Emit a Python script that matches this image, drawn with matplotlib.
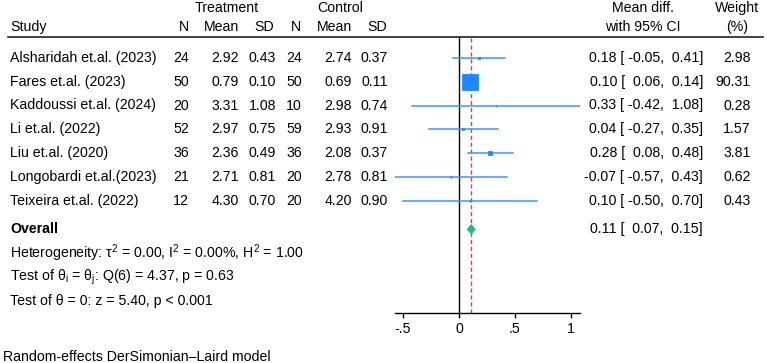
import matplotlib
matplotlib.use("Agg")
import matplotlib.pyplot as plt
import matplotlib.transforms as mtransforms
import numpy as np

plt.rcParams.update({
    "font.family": ["Liberation Sans", "DejaVu Sans"],
    "font.size": 10.2,
    "mathtext.fontset": "custom",
    "mathtext.rm": "Liberation Sans",
    "mathtext.it": "Liberation Sans:italic",
    "mathtext.bf": "Liberation Sans:bold",
})

# Data
studies = [
    "Alsharidah et.al. (2023)",
    "Fares et.al. (2023)",
    "Kaddoussi et.al. (2024)",
    "Li et.al. (2022)",
    "Liu et.al. (2020)",
    "Longobardi et.al.(2023)",
    "Teixeira et.al. (2022)",
]
n_treat = [24, 50, 20, 52, 36, 21, 12]
mean_treat = [2.92, 0.79, 3.31, 2.97, 2.36, 2.71, 4.30]
sd_treat = [0.43, 0.10, 1.08, 0.75, 0.49, 0.81, 0.70]
n_ctrl = [24, 50, 10, 59, 36, 20, 20]
mean_ctrl = [2.74, 0.69, 2.98, 2.93, 2.08, 2.78, 4.20]
sd_ctrl = [0.37, 0.11, 0.74, 0.91, 0.37, 0.81, 0.90]
mean_diff = [0.18, 0.10, 0.33, 0.04, 0.28, -0.07, 0.10]
ci_low = [-0.05, 0.06, -0.42, -0.27, 0.08, -0.57, -0.50]
ci_high = [0.41, 0.14, 1.08, 0.35, 0.48, 0.43, 0.70]
weights = [2.98, 90.31, 0.28, 1.57, 3.81, 0.62, 0.43]

overall = 0.11
overall_low = 0.07
overall_high = 0.15

stats_lines = [
    r"Heterogeneity: τ$^{2}$ = 0.00, I$^{2}$ = 0.00%, H$^{2}$ = 1.00",
    r"Test of θ$_{\mathrm{i}}$ = θ$_{\mathrm{j}}$: Q(6) = 4.37, p = 0.63",
    "Test of θ = 0: z = 5.40, p < 0.001",
]
footnote = "Random-effects DerSimonian\u2013Laird model"

ticks = [-0.5, 0, 0.5, 1]
tick_labels = ["-.5", "0", ".5", "1"]

# Layout (pixels)
W, H = 767, 363
ROW0, STEP = 57.7, 23.9
Y_OVERALL = 229.3
Y_STATS = [253.3, 277.0, 301.0]
Y_FOOT = 356.7
Y_HEAD1, Y_HEAD2 = 8, 27
Y_RULE, Y_AXIS = 37, 313

SQUARE_COLOR = "#1E88FF"
LINE_COLOR = "#3399FF"
DIAMOND_COLOR = "#1FBF80"
REF_COLOR = "#E8383B"

fig = plt.figure(figsize=(W / 100, H / 100), dpi=100)
fig.patch.set_facecolor("white")

ax_left, ax_right = 395, 580
ax = fig.add_axes([ax_left / W, (H - Y_AXIS) / H, (ax_right - ax_left) / W, (Y_AXIS - Y_RULE) / H])
ax.set_xlim(-0.57, 1.08)
ax.set_ylim(Y_AXIS, Y_RULE)
ax.patch.set_alpha(0)
for side in ["left", "top", "right"]:
    ax.spines[side].set_visible(False)
ax.spines["bottom"].set_linewidth(1.0)
ax.set_yticks([])
ax.set_xticks(ticks)
ax.set_xticklabels(tick_labels, fontsize=10.2)
ax.tick_params(axis="x", direction="out", length=3.5, width=1.0, pad=3)

trans = mtransforms.blended_transform_factory(fig.transFigure, ax.transData)


def put(px, y, s, ha="left", **kw):
    ax.text(px / W, y, s, transform=trans, ha=ha, va="center", clip_on=False, **kw)


# Reference lines
ax.axvline(0, color="black", lw=1.0, zorder=2)
ax.axvline(overall, color=REF_COLOR, lw=1.0, ls=(0, (3, 2)), zorder=2)

# Study rows
max_w = max(weights)
for i, name in enumerate(studies):
    y = ROW0 + STEP * i
    ax.plot([ci_low[i], ci_high[i]], [y, y], color=LINE_COLOR, lw=1.1, zorder=3)
    side = 16 * 0.72 * np.sqrt(weights[i] / max_w)
    ax.plot(mean_diff[i], y, marker="s", ms=side, color=SQUARE_COLOR,
            mec=SQUARE_COLOR, mew=0.6, zorder=4)

    put(10, y, name)
    put(189, y, f"{n_treat[i]}", ha="right")
    put(239, y, f"{mean_treat[i]:.2f}", ha="right")
    put(276, y, f"{sd_treat[i]:.2f}", ha="right")
    put(302, y, f"{n_ctrl[i]}", ha="right")
    put(352, y, f"{mean_ctrl[i]:.2f}", ha="right")
    put(388, y, f"{sd_ctrl[i]:.2f}", ha="right")
    put(703, y, f"{mean_diff[i]:.2f} [{ci_low[i]:6.2f}, {ci_high[i]:5.2f}]", ha="right")
    put(751, y, f"{weights[i]:.2f}", ha="right")

# Overall diamond
half_h = 5.5
ax.fill([overall_low, overall, overall_high, overall],
        [Y_OVERALL, Y_OVERALL - half_h, Y_OVERALL, Y_OVERALL + half_h],
        color=DIAMOND_COLOR, lw=0, zorder=5)
put(10, Y_OVERALL, "Overall", fontweight="bold")
put(703, Y_OVERALL, f"{overall:.2f} [{overall_low:6.2f}, {overall_high:5.2f}]", ha="right")

for y, s in zip(Y_STATS, stats_lines):
    put(10, y, s)
put(3, Y_FOOT, footnote)

# Headers
put(227, Y_HEAD1, "Treatment", ha="center")
put(340, Y_HEAD1, "Control", ha="center")
put(643, Y_HEAD1, "Mean diff.", ha="center")
put(643, Y_HEAD2, "with 95% CI", ha="center")
put(737, Y_HEAD1, "Weight", ha="center")
put(737, Y_HEAD2, "(%)", ha="center")
put(10, Y_HEAD2, "Study")
for px, s in [(189, "N"), (239, "Mean"), (274, "SD"), (301, "N"), (352, "Mean"), (387, "SD")]:
    put(px, Y_HEAD2, s, ha="right")

ax.plot([8 / W, 763 / W], [Y_RULE, Y_RULE], color="#222222", lw=1.2,
        transform=trans, clip_on=False)

fig.savefig("out.png", dpi=100)
